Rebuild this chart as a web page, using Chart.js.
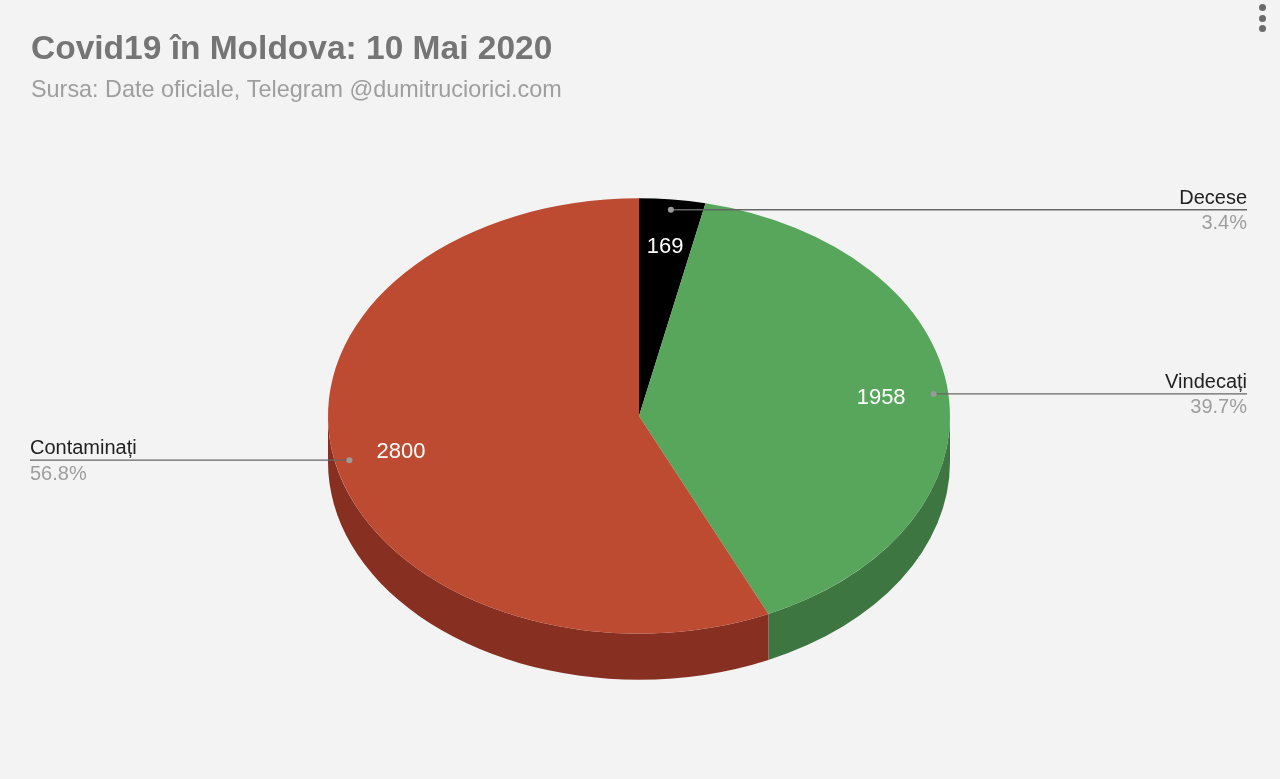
<!DOCTYPE html>
<html>
<head>
<meta charset="utf-8">
<title>Covid19 în Moldova</title>
<script src="https://cdn.jsdelivr.net/npm/chart.js@4.4.1/dist/chart.umd.min.js"></script>
<style>
    html, body { margin: 0; padding: 0; background: #f3f3f3; }
    #wrap { position: relative; width: 1280px; height: 779px; }
    #menu { position: absolute; left: 1259px; top: 4px; }
    #menu span { display: block; width: 7px; height: 7px; border-radius: 50%; background: #6b6b6b; margin-bottom: 3.5px; }
</style>
</head>
<body>
<div id="wrap">
    <canvas id="pieChart" width="1280" height="779"></canvas>
    <div id="menu"><span></span><span></span><span></span></div>
</div>
<script>
const chartTitle = 'Covid19 în Moldova: 10 Mai 2020'
const chartSubtitle = 'Sursa: Date oficiale, Telegram @dumitruciorici.com'

const labels = ['Decese', 'Vindecați', 'Contaminați']
const values = [169, 1958, 2800]
const topColors = ['#000000', '#58a65c', '#bd4b31']
const sideColors = ['#000000', '#3e7641', '#873022']

const FONT = '"Liberation Sans", Arial, sans-serif'
const TILT = 0.70      // ellipse ratio (ry / rx)
const DEPTH = 46       // thickness of the pie

const total = values.reduce((a, b) => a + b, 0)

// fake 3D : tilted top face + sides, and Google-style labels
const pie3d = {
    id: 'pie3d',
    beforeDatasetsDraw(chart) {
        const ctx = chart.ctx
        const arcs = chart.getDatasetMeta(0).data
        const cx = arcs[0].x
        const cy = arcs[0].y

        // sides (front half only, angles 0..PI)
        arcs.forEach((a, i) => {
            const R = a.outerRadius
            for (let k = -1; k <= 1; k++) {
                const lo = Math.max(a.startAngle, 2 * Math.PI * k)
                const hi = Math.min(a.endAngle, Math.PI + 2 * Math.PI * k)
                if (hi <= lo) continue
                ctx.save()
                ctx.beginPath()
                ctx.ellipse(cx, cy, R, R * TILT, 0, lo, hi)
                ctx.ellipse(cx, cy + DEPTH, R, R * TILT, 0, hi, lo, true)
                ctx.closePath()
                ctx.fillStyle = sideColors[i]
                ctx.fill()
                ctx.restore()
            }
        })

        // squash the top face
        ctx.save()
        ctx.translate(cx, cy)
        ctx.scale(1, TILT)
        ctx.translate(-cx, -cy)
    },
    afterDatasetsDraw(chart) {
        const ctx = chart.ctx
        ctx.restore()

        const arcs = chart.getDatasetMeta(0).data
        const cx = arcs[0].x
        const cy = arcs[0].y

        arcs.forEach((a, i) => {
            const R = a.outerRadius
            const mid = (a.startAngle + a.endAngle) / 2
            const cos = Math.cos(mid)
            const sin = Math.sin(mid)

            // value inside the slice
            ctx.save()
            ctx.fillStyle = '#ffffff'
            ctx.font = '22px ' + FONT
            ctx.textAlign = 'center'
            ctx.textBaseline = 'middle'
            ctx.fillText(String(values[i]), cx + 0.783 * R * cos, cy + 0.783 * R * TILT * sin)
            ctx.restore()

            // leader line + dot
            const dx = cx + 0.953 * R * cos
            const dy = cy + 0.953 * R * TILT * sin
            const right = cos > 0
            const endX = right ? 1247 : 30
            ctx.save()
            ctx.strokeStyle = '#666666'
            ctx.lineWidth = 1.3
            ctx.beginPath()
            ctx.moveTo(dx, dy)
            ctx.lineTo(endX, dy)
            ctx.stroke()
            ctx.fillStyle = '#9a9a9a'
            ctx.beginPath()
            ctx.arc(dx, dy, 3, 0, Math.PI * 2)
            ctx.fill()

            // name + percentage
            const pct = (values[i] / total * 100).toFixed(1) + '%'
            ctx.textAlign = right ? 'right' : 'left'
            ctx.textBaseline = 'alphabetic'
            ctx.font = '20px ' + FONT
            ctx.fillStyle = '#222222'
            ctx.fillText(labels[i], endX, dy - 6)
            ctx.fillStyle = '#9e9e9e'
            ctx.fillText(pct, endX, dy + 19.5)
            ctx.restore()
        })
    },
    afterDraw(chart) {
        const ctx = chart.ctx
        ctx.save()
        ctx.textAlign = 'left'
        ctx.textBaseline = 'alphabetic'
        ctx.fillStyle = '#757575'
        ctx.font = 'bold 33.5px ' + FONT
        ctx.fillText(chartTitle, 31, 59)
        ctx.fillStyle = '#9e9e9e'
        ctx.font = '23.4px ' + FONT
        ctx.fillText(chartSubtitle, 31, 97)
        ctx.restore()
    }
}

const ctx = document.getElementById('pieChart').getContext('2d')
new Chart(ctx, {
    type: 'pie',
    data: {
        labels: labels,
        datasets: [{
            data: values,
            backgroundColor: topColors,
            borderWidth: 0,
            hoverOffset: 0,
            radius: 311,
            clip: false
        }]
    },
    options: {
        responsive: false,
        animation: false,
        events: [],
        layout: { padding: { left: 328, right: 330, top: 105, bottom: 52 } },
        plugins: {
            legend: { display: false },
            tooltip: { enabled: false },
            title: { display: false }
        }
    },
    plugins: [pie3d]
});
</script>
</body>
</html>
